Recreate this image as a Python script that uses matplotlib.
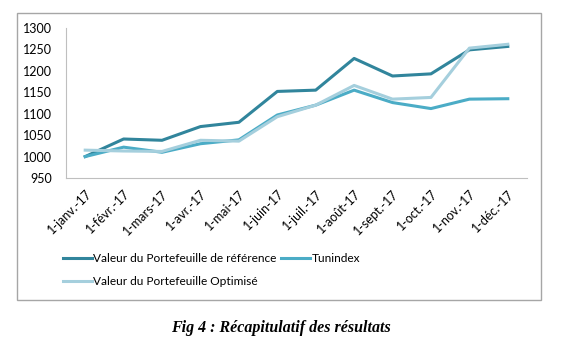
import matplotlib.pyplot as plt
from matplotlib.patches import Rectangle

mois = ['1-janv.-17', '1-févr.-17', '1-mars-17', '1-avr.-17', '1-mai-17', '1-juin-17',
        '1-juil.-17', '1-août-17', '1-sept.-17', '1-oct.-17', '1-nov.-17', '1-déc.-17']
reference = [1000, 1041, 1038, 1070, 1080, 1152, 1155, 1229, 1188, 1193, 1249, 1257]
tunindex = [1000, 1022, 1010, 1030, 1039, 1097, 1120, 1155, 1126, 1112, 1134, 1135]
optimise = [1015, 1013, 1012, 1038, 1036, 1093, 1120, 1166, 1134, 1138, 1253, 1262]

plt.rcParams['font.family'] = ['Lato', 'DejaVu Sans']

fig = plt.figure(figsize=(5.62, 3.53), dpi=100)
fig.patches.append(Rectangle((17 / 562, 1 - 300 / 353), 524 / 562, 287 / 353,
                             transform=fig.transFigure, fill=False,
                             edgecolor='#a6a6a6', linewidth=1.0))

ax = fig.add_axes([66 / 562, 1 - 178 / 353, 461 / 562, 150 / 353])
x = range(len(mois))
l1, = ax.plot(x, reference, color='#31859c', lw=2.2, label='Valeur du Portefeuille de référence')
l2, = ax.plot(x, tunindex, color='#4bacc6', lw=2.2, label='Tunindex')
l3, = ax.plot(x, optimise, color='#a5cfdd', lw=2.2, label='Valeur du Portefeuille Optimisé')

ax.set_xlim(-0.5, 11.5)
ax.set_ylim(950, 1300)
ax.set_yticks(range(950, 1301, 50))
ax.set_xticks(list(x))
ax.set_xticklabels(mois, rotation=45, ha='right', rotation_mode='anchor')
ax.tick_params(length=0, labelsize=9, colors='black')
ax.tick_params(axis='y', pad=10)
ax.tick_params(axis='x', pad=7)
for s in ['top', 'right']:
    ax.spines[s].set_visible(False)
for s in ['left', 'bottom']:
    ax.spines[s].set_color('#bfbfbf')

fig.legend([l1, l3, l2], [l1.get_label(), l3.get_label(), l2.get_label()],
           ncol=2, loc='upper left', bbox_to_anchor=(57 / 562, 1 - 247 / 353),
           frameon=False, fontsize=8.6, handlelength=2.4, handletextpad=0.15,
           columnspacing=0.35, labelspacing=1.0, borderpad=0)

fig.text(0.5, 1 - 328 / 353, 'Fig 4 : Récapitulatif des résultats', ha='center', va='center',
         family='Liberation Serif', weight='bold', style='italic', fontsize=11.5)

fig.savefig('out.png', dpi=100)
